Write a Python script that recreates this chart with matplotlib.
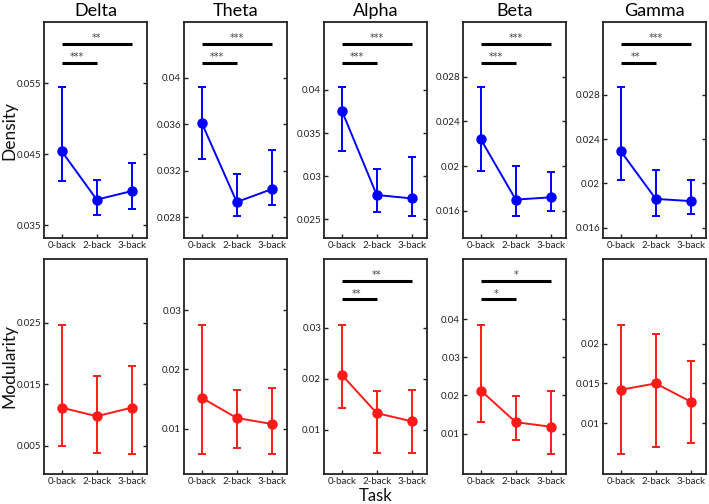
import matplotlib
matplotlib.use("Agg")
import matplotlib.pyplot as plt
import matplotlib.transforms as mtransforms

plt.rcParams['font.family'] = ['Lato', 'DejaVu Sans']

bands = ["Delta", "Theta", "Alpha", "Beta", "Gamma"]
tasks = ["0-back", "2-back", "3-back"]
task_x = [1, 2, 3]

# Density (top row): mean, upper error end, lower error end
dens_mean = [[0.0454, 0.0386, 0.0398],
             [0.0361, 0.0293, 0.0304],
             [0.0376, 0.0278, 0.0274],
             [0.0224, 0.0170, 0.0172],
             [0.0229, 0.0186, 0.0184]]
dens_hi = [[0.0545, 0.0414, 0.0437],
           [0.0392, 0.0317, 0.0338],
           [0.0403, 0.0308, 0.0322],
           [0.0271, 0.0200, 0.0195],
           [0.0287, 0.0212, 0.0203]]
dens_lo = [[0.0412, 0.0364, 0.0373],
           [0.0330, 0.0281, 0.0290],
           [0.0329, 0.0258, 0.0254],
           [0.0196, 0.0155, 0.0160],
           [0.0203, 0.0171, 0.0172]]
dens_ylim = [(0.0332, 0.0636), (0.0262, 0.0448), (0.0228, 0.0479),
             (0.01356, 0.0329), (0.01507, 0.03456)]
dens_ticks = [[0.035, 0.045, 0.055],
              [0.028, 0.032, 0.036, 0.04],
              [0.025, 0.03, 0.035, 0.04],
              [0.016, 0.02, 0.024, 0.028],
              [0.016, 0.02, 0.024, 0.028]]
dens_ticklabels = [["0.035", "0.045", "0.055"],
                   ["0.028", "0.032", "0.036", "0.04"],
                   ["0.025", "0.03", "0.035", "0.04"],
                   ["0.016", "0.02", "0.024", "0.028"],
                   ["0.016", "0.02", "0.024", "0.028"]]
dens_sig_long = ["**", "***", "***", "***", "***"]
dens_sig_short = ["***", "***", "***", "***", "**"]

# Modularity (bottom row)
mod_mean = [[0.0112, 0.0098, 0.0112],
            [0.0152, 0.0118, 0.0108],
            [0.0208, 0.0133, 0.0117],
            [0.0213, 0.0130, 0.0118],
            [0.0142, 0.0150, 0.0127]]
mod_hi = [[0.0246, 0.0163, 0.0180],
          [0.0275, 0.0166, 0.0169],
          [0.0306, 0.0177, 0.0178],
          [0.0385, 0.0199, 0.0211],
          [0.0224, 0.0212, 0.0178]]
mod_lo = [[0.0050, 0.0039, 0.0037],
          [0.0057, 0.0068, 0.0057],
          [0.0144, 0.0054, 0.0054],
          [0.0130, 0.0083, 0.0047],
          [0.0061, 0.0070, 0.0075]]
mod_ylim = [(0.0004, 0.0354), (0.00236, 0.0386), (0.00137, 0.0435),
            (-0.0006, 0.0558), (0.00357, 0.0307)]
mod_ticks = [[0.005, 0.015, 0.025],
             [0.01, 0.02, 0.03],
             [0.01, 0.02, 0.03],
             [0.01, 0.02, 0.03, 0.04],
             [0.01, 0.015, 0.02]]
mod_ticklabels = [["0.005", "0.015", "0.025"],
                  ["0.01", "0.02", "0.03"],
                  ["0.01", "0.02", "0.03"],
                  ["0.01", "0.02", "0.03", "0.04"],
                  ["0.01", "0.015", "0.02"]]
mod_sig_long = [None, None, "**", "*", None]
mod_sig_short = [None, None, "**", "*", None]

W, H = 709, 504
fig = plt.figure(figsize=(W / 100, H / 100), dpi=100)

col_left = [44, 184, 324, 463, 603]
ax_w = 103
rows = [(22, 238), (259, 474)]
spine_col = '#222222'


def draw_panel(ax, mean, hi, lo, color, ylim, ticks, ticklabels, sig_long, sig_short):
    yerr = [[m - l for m, l in zip(mean, lo)], [h - m for m, h in zip(mean, hi)]]
    ax.errorbar(task_x, mean, yerr=yerr, color=color, lw=1.4, marker='o',
                markersize=6.5, capsize=3, capthick=1.4, elinewidth=1.4)
    ax.set_xlim(0.49, 3.44)
    ax.set_ylim(*ylim)
    ax.set_yticks(ticks)
    ax.set_yticklabels(ticklabels)
    ax.set_xticks(task_x)
    ax.set_xticklabels(tasks)
    ax.tick_params(axis='both', labelsize=7, colors=spine_col, width=1.0,
                   length=3, pad=2, direction='in')
    ax.tick_params(axis='y', right=True)
    for sp in ax.spines.values():
        sp.set_linewidth(1.3)
        sp.set_color(spine_col)
    trans = mtransforms.blended_transform_factory(ax.transData, ax.transAxes)
    if sig_long:
        ax.plot([task_x[0], task_x[2]], [0.900, 0.900], color='black', lw=2.2,
                transform=trans, solid_capstyle='butt')
        ax.text((task_x[0] + task_x[2]) / 2, 0.903, sig_long, transform=trans,
                ha='center', va='bottom', fontsize=7, color='#444444',
                family='DejaVu Sans')
    if sig_short:
        ax.plot([task_x[0], task_x[1]], [0.812, 0.812], color='black', lw=2.2,
                transform=trans, solid_capstyle='butt')
        ax.text((task_x[0] + task_x[1]) / 2 - 0.07, 0.815, sig_short, transform=trans,
                ha='center', va='bottom', fontsize=7, color='#444444',
                family='DejaVu Sans')


for i, band in enumerate(bands):
    for r, (top, bot) in enumerate(rows):
        ax = fig.add_axes([col_left[i] / W, (H - bot) / H, ax_w / W, (bot - top) / H])
        if r == 0:
            draw_panel(ax, dens_mean[i], dens_hi[i], dens_lo[i], 'blue', dens_ylim[i],
                       dens_ticks[i], dens_ticklabels[i], dens_sig_long[i], dens_sig_short[i])
            ax.set_title(band, fontsize=13, pad=4)
        else:
            draw_panel(ax, mod_mean[i], mod_hi[i], mod_lo[i], '#ff1a1a', mod_ylim[i],
                       mod_ticks[i], mod_ticklabels[i], mod_sig_long[i], mod_sig_short[i])

fig.text(9 / W, 1 - 130 / H, "Density", rotation=90, ha='center', va='center',
         fontsize=12.5, color='#111111')
fig.text(9 / W, 1 - 366 / H, "Modularity", rotation=90, ha='center', va='center',
         fontsize=12.5, color='#111111')
fig.text(376 / W, 3 / H, "Task", ha='center', va='baseline',
         fontsize=12, color='#111111')

fig.savefig("out.png", dpi=100)
